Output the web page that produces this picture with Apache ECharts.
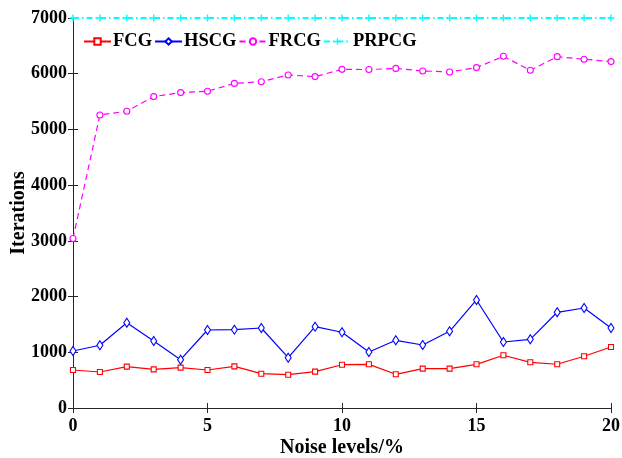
<!DOCTYPE html>
<html lang="en">

<head>
    <meta charset="UTF-8">
    <title>Iterations vs noise</title>
    <style>
        * {
            margin: 0;
            padding: 0;
        }

        html,
        body {
            height: 100%;
            background: #fff;
        }

        #box {
            width: 622px;
            height: 458px;
        }
    </style>
    <script src="https://cdn.jsdelivr.net/npm/echarts@6/dist/echarts.min.js"></script>
</head>

<body>
    <div id="box"></div>

    <script>
        // noise levels (%)
        var noise = [0, 1, 2, 3, 4, 5, 6, 7, 8, 9, 10, 11, 12, 13, 14, 15, 16, 17, 18, 19, 20];
        var fcg = [682, 646, 742, 694, 724, 682, 748, 616, 598, 652, 777, 784, 605, 706, 706, 784, 946, 820, 785, 928, 1095];
        var hscg = [1023, 1126, 1531, 1203, 867, 1400, 1406, 1436, 903, 1460, 1359, 1005, 1215, 1131, 1377, 1939, 1185, 1233, 1718, 1795, 1436];
        var frcg = [3041, 5260, 5327, 5589, 5661, 5686, 5826, 5856, 5978, 5948, 6078, 6075, 6095, 6050, 6032, 6110, 6313, 6061, 6306, 6260, 6217];
        var prpcg = [7000, 7000, 7000, 7000, 7000, 7000, 7000, 7000, 7000, 7000, 7000, 7000, 7000, 7000, 7000, 7000, 7000, 7000, 7000, 7000, 7000];

        var font = 'Liberation Serif';
        var axisColor = '#262626';
        var plus = 'path://M4,0h2v4h4v2h-4v4h-2v-4h-4v-2h4z';

        function pairs(ys) {
            return noise.map(function (x, i) { return [x, ys[i]]; });
        }

        var myChart = echarts.init(document.getElementById('box'));

        function lineSeries(name, ys, color, type, symbol, size) {
            return {
                name: name,
                type: 'line',
                data: pairs(ys),
                symbol: symbol,
                symbolSize: size,
                clip: false,
                itemStyle: { color: '#fff', borderColor: color, borderWidth: 1.1 },
                lineStyle: { color: color, width: 1.2, type: type },
                emphasis: { disabled: true }
            };
        }

        var prp = lineSeries('PRPCG', prpcg, '#00ffff', [6, 3, 1.5, 3], plus, 7);
        prp.itemStyle = { color: '#00ffff', borderWidth: 0 };
        prp.lineStyle.width = 1.8;

        myChart.setOption({
            animation: false,
            grid: { left: 73, right: 11, top: 18, bottom: 50, containLabel: false, outerBoundsMode: 'none' },
            legend: {
                left: 78,
                top: 27,
                itemWidth: 27,
                itemHeight: 8,
                itemGap: 2,
                textStyle: { fontFamily: font, fontWeight: 'bold', fontSize: 18.5, color: '#000', padding: [0, 0, 0, -3] },
                data: ['FCG', 'HSCG', 'FRCG', 'PRPCG']
            },
            xAxis: [{
                type: 'value',
                min: 0,
                max: 20,
                interval: 5,
                name: 'Noise levels/%',
                nameLocation: 'middle',
                nameGap: 30,
                nameMoveOverlap: false,
                nameTextStyle: { fontFamily: font, fontWeight: 'bold', fontSize: 20, color: '#000' },
                axisLine: { lineStyle: { color: axisColor, width: 1 } },
                axisTick: { inside: true, length: 5, lineStyle: { color: axisColor } },
                axisLabel: { fontFamily: font, fontWeight: 'bold', fontSize: 18, color: '#000', margin: 9 },
                splitLine: { show: false }
            }, {
                type: 'value',
                position: 'top',
                min: 0,
                max: 20,
                interval: 5,
                axisLine: { show: true, lineStyle: { color: axisColor, width: 1 } },
                axisTick: { inside: true, length: 5, lineStyle: { color: axisColor } },
                axisLabel: { show: false },
                splitLine: { show: false }
            }],
            yAxis: [{
                type: 'value',
                min: 0,
                max: 7000,
                interval: 1000,
                name: 'Iterations',
                nameLocation: 'middle',
                nameGap: 44,
                nameMoveOverlap: false,
                nameTextStyle: { fontFamily: font, fontWeight: 'bold', fontSize: 20, color: '#000' },
                axisLine: { show: true, lineStyle: { color: axisColor, width: 1 } },
                axisTick: { show: true, inside: true, length: 5, lineStyle: { color: axisColor } },
                axisLabel: {
                    fontFamily: font, fontWeight: 'bold', fontSize: 18, color: '#000', margin: 6,
                    formatter: function (v) { return String(v); }
                },
                splitLine: { show: false }
            }, {
                type: 'value',
                position: 'right',
                min: 0,
                max: 7000,
                interval: 1000,
                axisLine: { show: true, lineStyle: { color: axisColor, width: 1 } },
                axisTick: { show: true, inside: true, length: 5, lineStyle: { color: axisColor } },
                axisLabel: { show: false },
                splitLine: { show: false }
            }],
            series: [
                lineSeries('FCG', fcg, '#ff0000', 'solid', 'rect', 5),
                lineSeries('HSCG', hscg, '#0000ff', 'solid', 'diamond', [6, 9]),
                lineSeries('FRCG', frcg, '#ff00ff', [6, 4], 'circle', 6),
                prp
            ]
        });

        window.onresize = function () {
            myChart.resize();
        }
    </script>
</body>

</html>
